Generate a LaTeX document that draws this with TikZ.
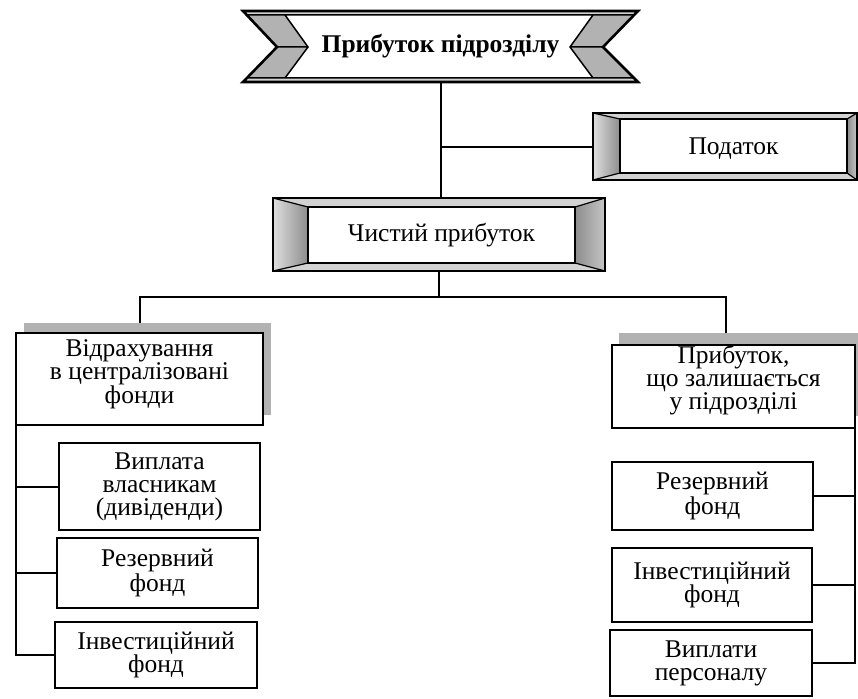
\documentclass[tikz,border=0pt]{standalone}
\usepackage{fontspec}
\setmainfont{Liberation Serif}
\usetikzlibrary{calc}

% Framed plate with shaded side panels: #1 node, #2 left, #3 right, #4 top, #5 bottom inset
\newcommand\bevelframe[5]{%
  \path (#1.north west) coordinate (#1-nw) (#1.north east) coordinate (#1-ne)
        (#1.south east) coordinate (#1-se) (#1.south west) coordinate (#1-sw)
        ($(#1.north west)+(#2,#4)$) coordinate (#1-inw)
        ($(#1.north east)+(-#3,#4)$) coordinate (#1-ine)
        ($(#1.south east)+(-#3,-#5)$) coordinate (#1-ise)
        ($(#1.south west)+(#2,-#5)$) coordinate (#1-isw);
  \fill[gray!35] (#1-nw) -- (#1-ne) -- (#1-ine) -- (#1-inw) -- cycle;
  \fill[gray!35] (#1-sw) -- (#1-se) -- (#1-ise) -- (#1-isw) -- cycle;
  \shade[left color=gray!25, right color=gray!90] (#1-nw) -- (#1-inw) -- (#1-isw) -- (#1-sw) -- cycle;
  \shade[left color=gray!90, right color=gray!45] (#1-ine) -- (#1-ne) -- (#1-se) -- (#1-ise) -- cycle;
  \draw[line width=1.2pt] (#1-nw) -- (#1-inw) (#1-ne) -- (#1-ine)
                          (#1-se) -- (#1-ise) (#1-sw) -- (#1-isw);
  \draw[line width=1.8pt, fill=white] (#1-inw) rectangle (#1-ise);
  \draw[line width=2.6pt] (#1-nw) rectangle (#1-se);
}

\begin{document}
\begin{tikzpicture}[x=1pt, y=-1pt,
  conn/.style={line width=2pt},
  holder/.style={inner sep=0pt, outer sep=0pt},
  txt/.style={inner sep=0pt, align=center, font=\fontsize{25.5}{23}\selectfont},
  plainbox/.style={holder, draw, line width=2.2pt, fill=white, align=center,
                   font=\fontsize{25.5}{23}\selectfont},
  shadowbox/.style={holder, fill=gray!60},
]
\useasboundingbox (0,0) rectangle (858,698);

% ---- ribbon banner at the top ----
\fill[gray!35] (243,11) -- (638,11) -- (603,47) -- (638,82) -- (243,82) -- (277,47) -- cycle;
\fill[gray!60] (247,15) -- (285,15) -- (308,47) -- (285,78) -- (247,78) -- (277,47) -- cycle;
\fill[gray!60] (593,15) -- (634,15) -- (603,47) -- (634,78) -- (593,78) -- (570,47) -- cycle;
\fill[white] (285,15) -- (593,15) -- (570,47) -- (593,78) -- (285,78) -- (308,47) -- cycle;
\draw[line width=1.5pt] (247,15) -- (634,15) (247,78) -- (634,78)
  (285,15) -- (308,47) -- (285,78) (593,15) -- (570,47) -- (593,78)
  (277,47) -- (308,47) (570,47) -- (603,47);
\draw[line width=2.6pt] (243,11) -- (638,11) -- (603,47) -- (638,82) -- (243,82) -- (277,47) -- cycle;
\node[holder, minimum width=395pt, minimum height=71pt,
      font=\bfseries\fontsize{25.5}{25}\selectfont] (banner) at (440.5,46.5) {Прибуток підрозділу};

% ---- framed plates ----
\node[holder, minimum width=264pt, minimum height=67pt] (podatok) at (725,146.5) {};
\bevelframe{podatok}{27}{10}{6}{7}
\node[txt] (podatok-t) at ($(podatok-inw)!0.5!(podatok-ise)+(0,3)$) {Податок};

\node[holder, minimum width=332pt, minimum height=73pt] (chist) at (439,234.5) {};
\bevelframe{chist}{35}{30}{9}{8}
\node[txt] (chist-t) at ($(chist-inw)!0.5!(chist-ise)$) {Чистий прибуток};

% ---- boxes with a shadow band ----
\node[shadowbox, minimum width=247pt, minimum height=92pt] (lsh) at (147.5,369) {};
\node[plainbox, minimum width=247pt, minimum height=92pt] (lbox) at (139.5,379) {};
\node[txt] (lbox-t) at ($(lbox.center)+(0,-5)$) {Відрахування\\в централізовані\\фонди};

\node[shadowbox, minimum width=243pt, minimum height=83pt] (rsh) at (740,374.5) {};
\node[plainbox, minimum width=243pt, minimum height=83pt] (rbox) at (733.5,386.5) {};
\node[txt] (rbox-t) at ($(rbox.center)+(0,-6)$) {Прибуток,\\що залишається\\у підрозділі};

% ---- lower boxes ----
\node[plainbox, minimum width=201pt, minimum height=87pt] (lc1) at (159.5,486.5) {Виплата\\власникам\\(дивіденди)};
\node[plainbox, minimum width=201pt, minimum height=70pt] (lc2) at (157.5,573) {Резервний\\фонд};
\node[plainbox, minimum width=202pt, minimum height=66pt] (lc3) at (156,655) {Інвестиційний\\фонд};

\node[plainbox, minimum width=201pt, minimum height=68pt] (rc1) at (712.5,496) {Резервний\\фонд};
\node[plainbox, minimum width=200pt, minimum height=74pt] (rc2) at (712,585) {Інвестиційний\\фонд};
\node[plainbox, minimum width=202pt, minimum height=66pt] (rc3) at (711,663) {Виплати\\персоналу};

% ---- connectors ----
\draw[conn] (banner.south) -- (banner.south |- chist.north);
\draw[conn] (banner.south |- podatok.west) -- (podatok.west);
\coordinate (bar) at ($(chist.south)+(0,26)$);
\coordinate (rdrop) at ($(rbox.north)+(-8,0)$);
\draw[conn] (chist.south) -- (bar);
\draw[conn] (lbox.north |- lsh.north) -- (lbox.north |- bar) -- (rdrop |- bar) -- (rdrop |- rsh.north);

\draw[conn] (lbox.south west) -- (lbox.south west |- lc3.west) -- (lc3.west);
\draw[conn] (lbox.south west |- lc1.west) -- (lc1.west);
\draw[conn] (lbox.south west |- lc2.west) -- (lc2.west);

\draw[conn] (rbox.south east) -- (rbox.south east |- rc3.east) -- (rc3.east);
\draw[conn] (rbox.south east |- rc1.east) -- (rc1.east);
\draw[conn] (rbox.south east |- rc2.east) -- (rc2.east);
\end{tikzpicture}
\end{document}
